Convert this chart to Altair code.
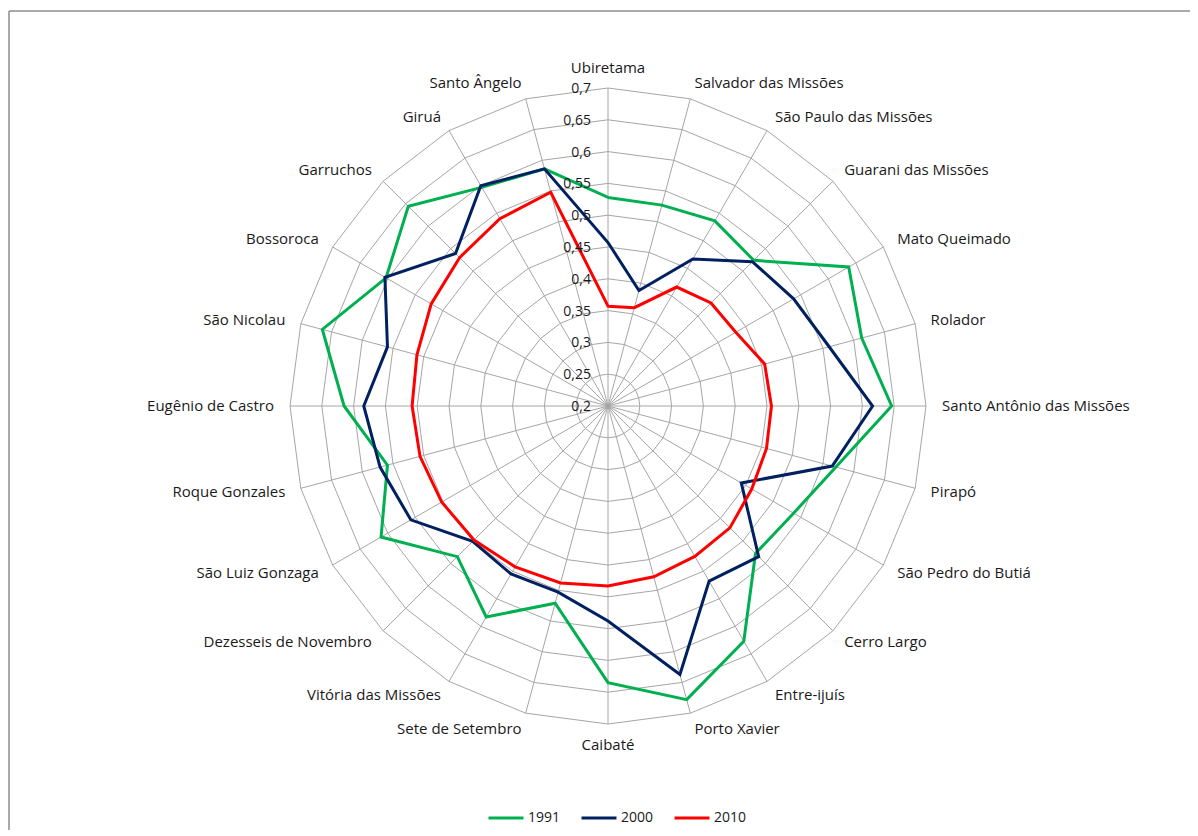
import altair as alt
import pandas as pd

# ---------------- data ----------------
categories = [
    "Ubiretama", "Salvador das Missões", "São Paulo das Missões", "Guarani das Missões",
    "Mato Queimado", "Rolador", "Santo Antônio das Missões", "Pirapó",
    "São Pedro do Butiá", "Cerro Largo", "Entre-ijuís", "Porto Xavier",
    "Caibaté", "Sete de Setembro", "Vitória das Missões", "Dezesseis de Novembro",
    "São Luiz Gonzaga", "Roque Gonzales", "Eugênio de Castro", "São Nicolau",
    "Bossoroca", "Garruchos", "Giruá", "Santo Ângelo",
]
v1991 = [0.528, 0.527, 0.536, 0.524, 0.637, 0.613, 0.646, 0.571, 0.537, 0.528, 0.627, 0.678,
         0.635, 0.521, 0.583, 0.535, 0.612, 0.559, 0.615, 0.665, 0.603, 0.644, 0.597, 0.586]
v2000 = [0.457, 0.388, 0.467, 0.521, 0.537, 0.560, 0.616, 0.565, 0.442, 0.535, 0.518, 0.637,
         0.538, 0.503, 0.505, 0.501, 0.558, 0.571, 0.584, 0.559, 0.605, 0.539, 0.600, 0.586]
v2010 = [0.357, 0.360, 0.416, 0.429, 0.432, 0.455, 0.457, 0.458, 0.461, 0.471, 0.473, 0.478,
         0.483, 0.488, 0.492, 0.498, 0.502, 0.506, 0.508, 0.511, 0.521, 0.530, 0.540, 0.548]
years = ["1991", "2000", "2010"]
colors = ["#00B050", "#002060", "#FF0000"]
ticks = [0.2, 0.25, 0.3, 0.35, 0.4, 0.45, 0.5, 0.55, 0.6, 0.65, 0.7]
tick_labels = ["0,2", "0,25", "0,3", "0,35", "0,4", "0,45", "0,5", "0,55", "0,6", "0,65", "0,7"]

N = len(categories)
RMIN = ticks[0]

# ---------------- tables ----------------
series_df = pd.DataFrame(
    [
        {"year": y, "idx": i, "cat": c, "value": v}
        for y, vals in zip(years, [v1991, v2000, v2010])
        for i, (c, v) in enumerate(zip(categories, vals))
    ]
)
ring_df = pd.DataFrame(
    [{"ring": t, "idx": i} for t in ticks[1:] for i in range(N)]
)
cat_df = pd.DataFrame({"idx": list(range(N)), "cat": categories})
tick_df = pd.DataFrame({"tick": ticks, "label": tick_labels})

# ---------------- geometry of the page ----------------
W, H = 1182, 822
PX = 636.0  # pixels per unit of radius (0.5 of value = 318 px)
xmin = -600 / PX
xmax = xmin + W / PX
ymax = 398 / PX
ymin = ymax - H / PX
xs = alt.Scale(domain=[xmin, xmax], nice=False, zero=False)
ys = alt.Scale(domain=[ymin, ymax], nice=False, zero=False)
FONT = "Open Sans"
TXT = "#1a1a1a"
GRID = "#a6a6a6"
LFS = 15

ang = f"datum.idx * 2 * PI / {N}"

# rings
rings = alt.Chart(ring_df).transform_calculate(
    a=ang,
    x=f"(datum.ring - {RMIN}) * sin({ang})",
    y=f"(datum.ring - {RMIN}) * cos({ang})",
).mark_line(interpolate="linear-closed", color=GRID, strokeWidth=1).encode(
    x=alt.X("x:Q", scale=xs, axis=None),
    y=alt.Y("y:Q", scale=ys, axis=None),
    detail="ring:N",
    order="idx:Q",
)

# spokes
rmax = ticks[-1] - RMIN
spokes = alt.Chart(cat_df).transform_calculate(
    x0="0", y0="0",
    x1=f"{rmax} * sin({ang})",
    y1=f"{rmax} * cos({ang})",
).mark_rule(color=GRID, strokeWidth=1).encode(
    x=alt.X("x0:Q", scale=xs, axis=None),
    y=alt.Y("y0:Q", scale=ys, axis=None),
    x2="x1:Q",
    y2="y1:Q",
)

# series
lines = alt.Chart(series_df).transform_calculate(
    x=f"(datum.value - {RMIN}) * sin({ang})",
    y=f"(datum.value - {RMIN}) * cos({ang})",
).mark_line(interpolate="linear-closed", strokeWidth=3).encode(
    x=alt.X("x:Q", scale=xs, axis=None),
    y=alt.Y("y:Q", scale=ys, axis=None),
    color=alt.Color(
        "year:N",
        scale=alt.Scale(domain=years, range=colors),
        legend=alt.Legend(
            title=None,
            orient="none",
            legendX=479,
            legendY=791,
            direction="horizontal",
            symbolType="stroke",
            symbolSize=1225,
            symbolStrokeWidth=3,
            labelFont=FONT,
            labelFontSize=14,
            labelColor=TXT,
            labelOffset=3,
            columnPadding=14,
        ),
    ),
    order="idx:Q",
    detail="year:N",
)

# category labels
LR = rmax + 16 / PX
base_lab = alt.Chart(cat_df).transform_calculate(
    lx=f"{LR} * sin({ang})",
    ly=f"{LR} * cos({ang})",
)
enc = dict(
    x=alt.X("lx:Q", scale=xs, axis=None),
    y=alt.Y("ly:Q", scale=ys, axis=None),
    text="cat:N",
)
half = N // 2
lab_right = base_lab.transform_filter(f"datum.idx > 0 && datum.idx < {half}").mark_text(
    align="left", baseline="middle", font=FONT, fontSize=LFS, color=TXT
).encode(**enc)
lab_left = base_lab.transform_filter(f"datum.idx > {half}").mark_text(
    align="right", baseline="middle", font=FONT, fontSize=LFS, color=TXT
).encode(**enc)
lab_top = base_lab.transform_filter("datum.idx == 0").mark_text(
    align="center", baseline="bottom", font=FONT, fontSize=LFS, color=TXT, dy=4
).encode(**enc)
lab_bot = base_lab.transform_filter(f"datum.idx == {half}").mark_text(
    align="center", baseline="top", font=FONT, fontSize=LFS, color=TXT, dy=-2
).encode(**enc)

# radial tick labels
tick_text = alt.Chart(tick_df).transform_calculate(
    tx="0", ty=f"datum.tick - {RMIN}"
).mark_text(align="right", baseline="middle", font=FONT, fontSize=14, color=TXT, dx=-17, dy=1).encode(
    x=alt.X("tx:Q", scale=xs, axis=None),
    y=alt.Y("ty:Q", scale=ys, axis=None),
    text="label:N",
)

# outer frame (top and left edges visible in the reference)
frame_df = pd.DataFrame({"k": [0]})
frame_top = alt.Chart(frame_df).mark_rule(color="#8c8c8c", strokeWidth=1.5).encode(
    x=alt.value(1), x2=alt.value(W), y=alt.value(3)
)
frame_left = alt.Chart(frame_df).mark_rule(color="#8c8c8c", strokeWidth=1.5).encode(
    x=alt.value(1), y=alt.value(3), y2=alt.value(H)
)

chart = alt.layer(
    frame_top, frame_left, rings, spokes, lines,
    lab_right, lab_left, lab_top, lab_bot, tick_text,
).properties(
    width=W, height=H,
    autosize=alt.AutoSizeParams(type="none"),
    padding=0,
    background="white",
).configure_view(stroke=None)

chart.save("out.html", embed_options={"renderer": "svg", "actions": False})
